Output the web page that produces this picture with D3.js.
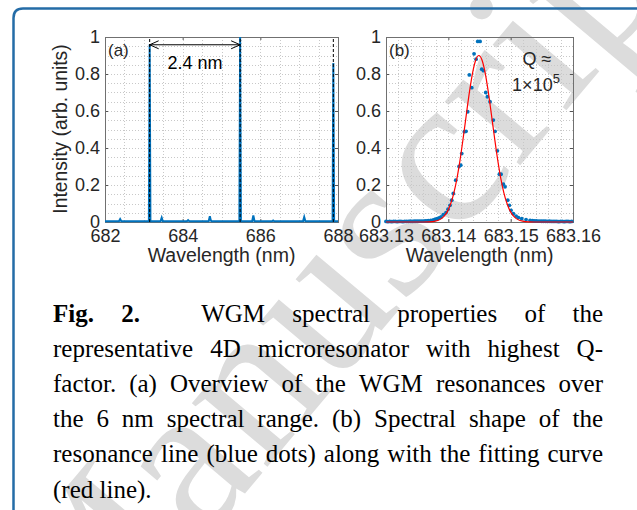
<!DOCTYPE html>
<html>
<head>
<meta charset="utf-8">
<script src="https://cdn.jsdelivr.net/npm/d3@7"></script>
<style>
  body { margin: 0; background: #fff; }
  svg { display: block; }
</style>
</head>
<body>
<div id="chart"></div>
<script>
// ---- data ----

// (a) overview spectrum, 682-688 nm
let specWl  = [682.00, 682.36, 682.39, 682.42, 683.13, 683.15, 683.17, 683.43, 683.46, 683.49,
               684.11, 684.14, 684.17, 684.67, 684.70, 684.72, 684.74, 685.46, 685.48, 685.50,
               685.79, 685.82, 685.85, 686.30, 686.33, 686.36, 687.10, 687.13, 687.16, 687.86,
               687.88, 687.90, 688.00];
let specInt = [0.004, 0.004, 0.016, 0.004, 0.004, 0.96, 0.004, 0.004, 0.023, 0.004,
               0.004, 0.010, 0.004, 0.004, 0.031, 0.012, 0.004, 0.004, 1.0, 0.004,
               0.004, 0.036, 0.004, 0.004, 0.008, 0.004, 0.004, 0.027, 0.004, 0.004,
               0.86, 0.004, 0.004];
// dashed markers on the three main resonances
let resonanceWl = [683.15, 685.48, 687.88];
let fsrLabel = '2.4 nm';

// (b) measured resonance line (blue dots)
let dotWl = [683.1300, 683.1303, 683.1306, 683.1309, 683.1312, 683.1315, 683.1318, 683.1321, 683.1324, 683.1327,
             683.1330, 683.1333, 683.1336, 683.1339, 683.1342, 683.1345, 683.1348, 683.1351, 683.1354, 683.1357,
             683.1360, 683.1363, 683.1366, 683.13679, 683.13719, 683.13759, 683.13791, 683.13823, 683.13852, 683.13883,
             683.13920, 683.13963, 683.13995, 683.14027, 683.14055, 683.14080, 683.14119, 683.14172, 683.14199, 683.14215,
             683.14257, 683.14284, 683.14311, 683.14337, 683.14376, 683.14413, 683.14445, 683.14472, 683.14509, 683.14536,
             683.14562, 683.14600, 683.14626, 683.14669, 683.14722, 683.14750, 683.14787, 683.14819, 683.14846, 683.14883,
             683.14910, 683.14953, 683.14979, 683.15006, 683.15043, 683.15087, 683.15124, 683.15178, 683.15247, 683.15311,
             683.1535, 683.1538, 683.1541, 683.1544, 683.1547, 683.1550, 683.1553, 683.1556, 683.1559, 683.1562,
             683.1565, 683.1568, 683.1571, 683.1574, 683.1577, 683.1580, 683.1583, 683.1586, 683.1589, 683.1592,
             683.1595, 683.1598];
let dotInt = [0.003, 0.002, 0.003, 0.002, 0.003, 0.003, 0.002, 0.003, 0.003, 0.002,
              0.003, 0.003, 0.003, 0.004, 0.003, 0.004, 0.004, 0.004, 0.005, 0.005,
              0.005, 0.006, 0.006, 0.007, 0.009, 0.011, 0.015, 0.018, 0.022, 0.027,
              0.040, 0.051, 0.069, 0.090, 0.118, 0.154, 0.226, 0.300, 0.307, 0.370,
              0.488, 0.490, 0.596, 0.795, 0.726, 0.909, 0.880, 0.976, 0.976, 0.826,
              0.818, 0.700, 0.677, 0.650, 0.551, 0.490, 0.385, 0.258, 0.258, 0.204,
              0.190, 0.118, 0.090, 0.063, 0.045, 0.032, 0.024, 0.018, 0.013, 0.009,
              0.007, 0.006, 0.006, 0.005, 0.005, 0.004, 0.004, 0.004, 0.003, 0.004,
              0.003, 0.003, 0.003, 0.003, 0.002, 0.003, 0.003, 0.002, 0.003, 0.003,
              0.002, 0.003];

// (b) fitting curve (red line)
let fitWl  = [683.1300, 683.1340, 683.1359, 683.1369, 683.1379, 683.1384, 683.1389, 683.1394, 683.1399, 683.1404,
              683.1409, 683.1414, 683.1419, 683.1424, 683.1429, 683.1434, 683.1439, 683.1444, 683.1449, 683.1454,
              683.1459, 683.1464, 683.1469, 683.1474, 683.1479, 683.1484, 683.1489, 683.1494, 683.1499, 683.1504,
              683.1509, 683.1514, 683.1519, 683.1529, 683.1539, 683.1560, 683.1600];
let fitInt = [0, 0, 0.0001, 0.0009, 0.0045, 0.0095, 0.0183, 0.0341, 0.0602, 0.101,
              0.159, 0.239, 0.340, 0.458, 0.584, 0.706, 0.808, 0.876, 0.900, 0.876,
              0.808, 0.706, 0.584, 0.458, 0.340, 0.239, 0.159, 0.101, 0.0602, 0.0341,
              0.0183, 0.0095, 0.0045, 0.0009, 0.0001, 0, 0];

// ticks
let xTicksA = [682, 684, 686, 688];
let xTicksB = [683.13, 683.14, 683.15, 683.16];
let yTicks  = [0, 0.2, 0.4, 0.6, 0.8, 1];

let captionLines = [
  '**Fig.** **2.** WGM spectral properties of the',
  'representative 4D microresonator with highest Q-',
  'factor. (a) Overview of the WGM resonances over',
  'the 6 nm spectral range. (b) Spectral shape of the',
  'resonance line (blue dots) along with the fitting curve',
  '(red line).'
];

// ---- drawing ----
const sans = "'Liberation Sans', Arial, Helvetica, sans-serif";
const serif = "'Liberation Serif', 'Times New Roman', serif";
const ink = '#262626';
const mBlue = '#0072BD';

let svg = d3.select('#chart').append('svg')
    .attr('width', 637)
    .attr('height', 510);

// watermark behind everything
svg.append('text')
    .attr('transform', 'translate(80,690) rotate(-50)')
    .attr('font-family', serif)
    .attr('font-size', 215)
    .attr('fill', '#dcdcdc')
    .text('Manuscript');

// blue frame on the left / top
svg.append('path')
    .attr('d', 'M13.5,512 L13.5,18 Q13.5,8.5 23,8.5 L640,8.5')
    .attr('fill', 'none')
    .attr('stroke', '#246ca7')
    .attr('stroke-width', 2.5);

function drawPanel(p) {
    let g = svg.append('g');
    let x = d3.scaleLinear().domain(p.xDomain).range([p.left, p.right]);
    let y = d3.scaleLinear().domain([0, 1]).range([p.bottom, p.top]);

    // dotted grid (major + minor)
    let gx = d3.range(0, p.nx + 1).map(i => p.xDomain[0] + i * p.xStep);
    let gy = d3.range(0, 21).map(i => i * 0.05);
    let grid = g.append('g')
        .attr('stroke', '#c8c8c8')
        .attr('stroke-width', 1)
        .attr('stroke-dasharray', '1,2');
    grid.selectAll('.gx').data(gx).join('line')
        .attr('x1', d => Math.round(x(d)) + 0.5).attr('x2', d => Math.round(x(d)) + 0.5)
        .attr('y1', p.top).attr('y2', p.bottom);
    grid.selectAll('.gy').data(gy).join('line')
        .attr('y1', d => Math.round(y(d)) + 0.5).attr('y2', d => Math.round(y(d)) + 0.5)
        .attr('x1', p.left).attr('x2', p.right);

    // axes, ticks pointing inward like MATLAB
    let bottom = g.append('g')
        .attr('transform', 'translate(0,' + p.bottom + ')')
        .call(d3.axisBottom(x).tickValues(p.xTicks).tickFormat(p.xFormat)
            .tickSizeInner(-3).tickSizeOuter(0).tickPadding(7));
    let left = g.append('g')
        .attr('transform', 'translate(' + p.left + ',0)')
        .call(d3.axisLeft(y).tickValues(yTicks).tickFormat(d => String(d))
            .tickSizeInner(-3).tickSizeOuter(0).tickPadding(5));
    let top = g.append('g')
        .attr('transform', 'translate(0,' + p.top + ')')
        .call(d3.axisTop(x).tickValues(p.xTicks).tickFormat('').tickSizeInner(-3).tickSizeOuter(0));
    let right = g.append('g')
        .attr('transform', 'translate(' + p.right + ',0)')
        .call(d3.axisRight(y).tickValues(yTicks).tickFormat('').tickSizeInner(-3).tickSizeOuter(0));
    [bottom, left, top, right].forEach(a => {
        a.select('.domain').remove();
        a.selectAll('line').attr('stroke', '#555');
        a.selectAll('text')
            .attr('font-family', sans)
            .attr('font-size', 18)
            .attr('fill', ink);
    });

    // box
    g.append('rect')
        .attr('x', p.left + 0.5).attr('y', p.top + 0.5)
        .attr('width', p.right - p.left).attr('height', p.bottom - p.top)
        .attr('fill', 'none')
        .attr('stroke', '#707070')
        .attr('stroke-width', 1);

    // x label
    g.append('text')
        .attr('x', (p.left + p.right) / 2)
        .attr('y', 262)
        .attr('text-anchor', 'middle')
        .attr('font-family', sans)
        .attr('font-size', 19.5)
        .attr('fill', ink)
        .text('Wavelength (nm)');

    // panel tag
    g.append('text')
        .attr('x', p.left + 3)
        .attr('y', p.top + 19)
        .attr('font-family', sans)
        .attr('font-size', 17)
        .attr('fill', ink)
        .text(p.tag);

    return { g: g, x: x, y: y };
}

// ---- panel (a) ----
let A = drawPanel({
    left: 105, right: 338, top: 37, bottom: 222,
    xDomain: [682, 688], nx: 12, xStep: 0.5,
    xTicks: xTicksA, xFormat: d => String(d), tag: '(a)'
});

let specLine = d3.line()
    .x((d, i) => A.x(specWl[i]))
    .y(d => A.y(d));
A.g.append('path')
    .datum(specInt)
    .attr('d', specLine)
    .attr('fill', 'none')
    .attr('stroke', mBlue)
    .attr('stroke-width', 2);

A.g.selectAll('.res').data(resonanceWl).join('line')
    .attr('x1', d => A.x(d)).attr('x2', d => A.x(d))
    .attr('y1', A.y(0)).attr('y2', A.y(1))
    .attr('stroke', '#000')
    .attr('stroke-width', 1)
    .attr('stroke-dasharray', '3,2');

// double arrow between the first two resonances
let ax0 = A.x(resonanceWl[0]), ax1 = A.x(resonanceWl[1]), ay = A.y(0.958);
A.g.append('line')
    .attr('x1', ax0).attr('x2', ax1).attr('y1', ay).attr('y2', ay)
    .attr('stroke', '#000').attr('stroke-width', 1);
A.g.append('path')
    .attr('d', 'M' + (ax0 + 9) + ',' + (ay - 4) + 'L' + ax0 + ',' + ay + 'L' + (ax0 + 9) + ',' + (ay + 4) +
               'M' + (ax1 - 9) + ',' + (ay - 4) + 'L' + ax1 + ',' + ay + 'L' + (ax1 - 9) + ',' + (ay + 4))
    .attr('fill', 'none').attr('stroke', '#000').attr('stroke-width', 1);
A.g.append('text')
    .attr('x', (ax0 + ax1) / 2)
    .attr('y', 69)
    .attr('text-anchor', 'middle')
    .attr('font-family', sans)
    .attr('font-size', 18)
    .attr('fill', '#000')
    .text(fsrLabel);

// y label
svg.append('text')
    .attr('transform', 'translate(67,129) rotate(-90)')
    .attr('text-anchor', 'middle')
    .attr('font-family', sans)
    .attr('font-size', 19.3)
    .attr('fill', ink)
    .text('Intensity (arb. units)');

// ---- panel (b) ----
let B = drawPanel({
    left: 386, right: 573, top: 37, bottom: 222,
    xDomain: [683.13, 683.16], nx: 15, xStep: 0.002,
    xTicks: xTicksB, xFormat: d3.format('.2f'), tag: '(b)'
});

B.g.append('g').selectAll('circle').data(dotInt).join('circle')
    .attr('cx', (d, i) => B.x(dotWl[i]))
    .attr('cy', d => B.y(d))
    .attr('r', 1.9)
    .attr('fill', mBlue);

let fitLine = d3.line()
    .x((d, i) => B.x(fitWl[i]))
    .y(d => B.y(d))
    .curve(d3.curveMonotoneX);
B.g.append('path')
    .datum(fitInt)
    .attr('d', fitLine)
    .attr('fill', 'none')
    .attr('stroke', '#ff0000')
    .attr('stroke-width', 1.2);

let q = B.g.append('g')
    .attr('font-family', sans)
    .attr('font-size', 18)
    .attr('fill', ink)
    .attr('text-anchor', 'middle');
q.append('text').attr('x', 537).attr('y', 65).text('Q \u2248');
let q2 = q.append('text').attr('x', 536).attr('y', 91);
q2.append('tspan').text('1\u00d710');
q2.append('tspan').attr('dy', -8).attr('font-size', 13).text('5');

// ---- caption, justified like the paper ----
let cap = svg.append('g')
    .attr('font-family', serif)
    .attr('font-size', 25)
    .attr('fill', '#000');
let capLeft = 53, capRight = 603, capTop = 321.5, capStep = 35.2;

captionLines.forEach(function (line, li) {
    let words = line.split(' ').map(w => w.startsWith('**')
        ? { t: w.replace(/\*\*/g, ''), bold: true }
        : { t: w, bold: false });
    let yb = capTop + li * capStep;
    let nodes = words.map(w => cap.append('text')
        .attr('y', yb)
        .attr('font-weight', w.bold ? 'bold' : 'normal')
        .text(w.t));
    let widths = nodes.map(n => n.node().getComputedTextLength());
    let last = li === captionLines.length - 1;
    let extra = li === 0 ? 34 : 0;   // quad after "Fig. 2."
    let gap = last ? 6.25 : (capRight - capLeft - d3.sum(widths) - extra) / (words.length - 1);
    let xp = capLeft;
    nodes.forEach(function (n, i) {
        n.attr('x', xp);
        xp += widths[i] + gap + (li === 0 && i === 1 ? extra : 0);
    });
});
</script>
</body>
</html>
